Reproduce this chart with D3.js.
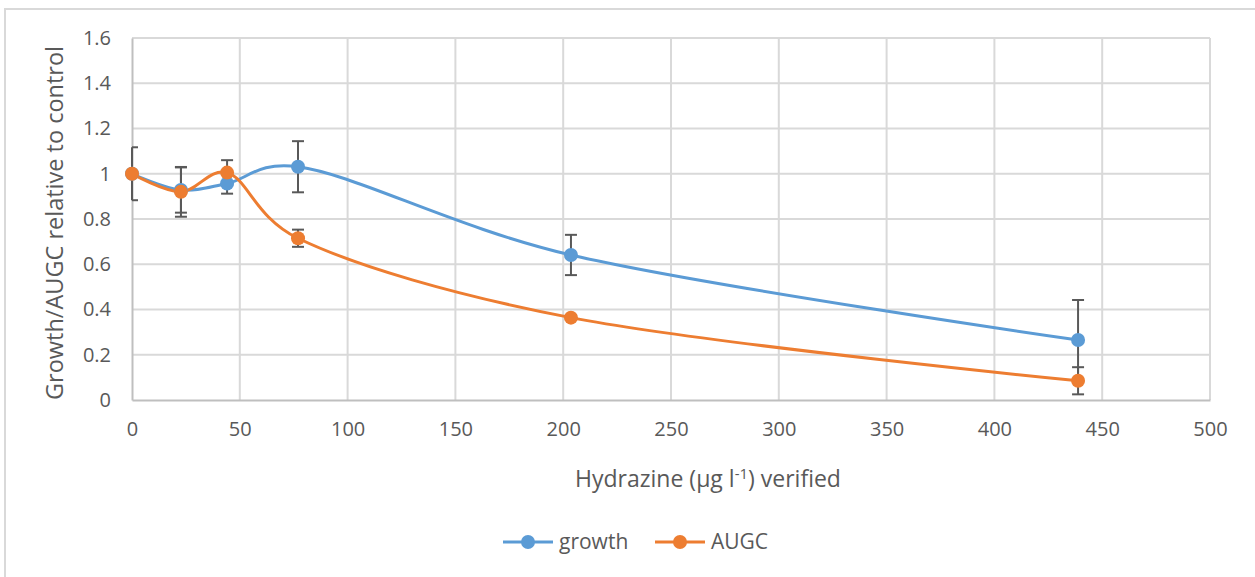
<!DOCTYPE html>
<html>
<head>
<meta charset="utf-8">
<script src="https://cdn.jsdelivr.net/npm/d3@7"></script>
<style>
  html, body { margin: 0; padding: 0; background: #fff; }
  svg { display: block; }
  text { font-family: "Open Sans", "Noto Sans", sans-serif; fill: #595959; }
</style>
</head>
<body>
<svg id="chart" width="1255" height="577"></svg>
<script>
// Hydrazine concentration (verified, µg/l)
const concentrations = [0, 22.7, 44.1, 77, 203.6, 438.8];

// Growth relative to control, with error
const growthValues = [1.0, 0.928, 0.957, 1.031, 0.641, 0.265];
const growthErrors = [0.117, 0.1, 0.045, 0.113, 0.089, 0.177];

// Area under growth curve (AUGC) relative to control, with error
const augcValues = [1.0, 0.92, 1.005, 0.715, 0.364, 0.085];
const augcErrors = [0.0, 0.11, 0.055, 0.038, 0.01, 0.06];

const xTicks = [0, 50, 100, 150, 200, 250, 300, 350, 400, 450, 500];
const yTicks = [0, 0.2, 0.4, 0.6, 0.8, 1.0, 1.2, 1.4, 1.6];

const seriesNames = ["growth", "AUGC"];
const seriesColors = ["#5b9bd5", "#ed7d31"];

const svg = d3.select("#chart");
const plot = { left: 132, right: 1210, top: 38, bottom: 400 };

const x = d3.scaleLinear().domain([0, 500]).range([plot.left, plot.right]);
const y = d3.scaleLinear().domain([0, 1.6]).range([plot.bottom, plot.top]);

// chart frame
svg.append("rect")
  .attr("x", 5).attr("y", 9)
  .attr("width", 1270).attr("height", 600)
  .attr("fill", "none").attr("stroke", "#d9d9d9").attr("stroke-width", 2);

// gridlines
const grid = svg.append("g");
grid.selectAll("line.h").data(yTicks.filter(d => d > 0)).join("line")
  .attr("x1", plot.left).attr("x2", plot.right)
  .attr("y1", d => y(d)).attr("y2", d => y(d))
  .attr("stroke", "#d9d9d9").attr("stroke-width", 2);
grid.selectAll("line.v").data(xTicks.filter(d => d > 0)).join("line")
  .attr("y1", plot.top).attr("y2", plot.bottom)
  .attr("x1", d => x(d)).attr("x2", d => x(d))
  .attr("stroke", "#d9d9d9").attr("stroke-width", 2);

// axes
const xAxis = svg.append("g")
  .attr("transform", `translate(0,${plot.bottom})`)
  .call(d3.axisBottom(x).tickValues(xTicks).tickSize(0).tickPadding(22).tickFormat(d3.format("d")));
const yAxis = svg.append("g")
  .attr("transform", `translate(${plot.left},0)`)
  .call(d3.axisLeft(y).tickValues(yTicks).tickSize(0).tickPadding(21).tickFormat(d => d3.format("")(+d.toFixed(1))));
[xAxis, yAxis].forEach(a => {
  a.select(".domain").attr("stroke", "#bfbfbf").attr("stroke-width", 2);
  a.selectAll("text").style("font-size", "20px").attr("fill", "#595959");
});

// axis titles
const xTitle = svg.append("text")
  .attr("x", 708).attr("y", 487)
  .attr("text-anchor", "middle")
  .style("font-size", "23px");
xTitle.append("tspan").text("Hydrazine (µg l");
xTitle.append("tspan").attr("dy", -8).style("font-size", "15px").text("-1");
xTitle.append("tspan").attr("dy", 8).text(") verified");

svg.append("text")
  .attr("transform", `translate(63,${(plot.top + plot.bottom) / 2 + 4}) rotate(-90)`)
  .attr("text-anchor", "middle")
  .style("font-size", "23.5px")
  .text("Growth/AUGC relative to control");

// series
const series = [
  { name: seriesNames[0], color: seriesColors[0], values: growthValues, errors: growthErrors },
  { name: seriesNames[1], color: seriesColors[1], values: augcValues, errors: augcErrors }
];

// smoothed line through the points
const line = d3.line()
  .x(d => x(d[0])).y(d => y(d[1]))
  .curve(d3.curveCatmullRom.alpha(0.25));

series.forEach(s => {
  const pts = concentrations.map((c, i) => [c, s.values[i], s.errors[i]]);
  svg.append("path")
    .datum(pts)
    .attr("d", line)
    .attr("fill", "none")
    .attr("stroke", s.color)
    .attr("stroke-width", 3);
});

// error bars drawn after both lines, before markers
series.forEach(s => {
  const pts = concentrations.map((c, i) => [c, s.values[i], s.errors[i]]);
  const eb = svg.append("g").attr("stroke", "#595959").attr("stroke-width", 2);
  pts.filter(d => d[2] > 0).forEach(d => {
    const cx = x(d[0]), y1 = y(d[1] + d[2]), y2 = y(d[1] - d[2]);
    eb.append("line").attr("x1", cx).attr("x2", cx).attr("y1", y1).attr("y2", y2);
    const capL = d[0] === 0 ? 0 : 6;
    eb.append("line").attr("x1", cx - capL).attr("x2", cx + 6).attr("y1", y1).attr("y2", y1);
    eb.append("line").attr("x1", cx - capL).attr("x2", cx + 6).attr("y1", y2).attr("y2", y2);
  });
});

series.forEach(s => {
  const pts = concentrations.map((c, i) => [c, s.values[i]]);
  svg.append("g").selectAll("circle").data(pts).join("circle")
    .attr("cx", d => x(d[0])).attr("cy", d => y(d[1]))
    .attr("r", 7).attr("fill", s.color);
});

// legend
const legendItems = [
  { name: seriesNames[0], color: seriesColors[0], x0: 503, tx: 559 },
  { name: seriesNames[1], color: seriesColors[1], x0: 655, tx: 711 }
];
const lg = svg.append("g");
legendItems.forEach(it => {
  lg.append("line").attr("x1", it.x0).attr("x2", it.x0 + 50)
    .attr("y1", 542).attr("y2", 542)
    .attr("stroke", it.color).attr("stroke-width", 3);
  lg.append("circle").attr("cx", it.x0 + 25).attr("cy", 542).attr("r", 7).attr("fill", it.color);
  lg.append("text").attr("x", it.tx).attr("y", 549)
    .style("font-size", "21px").text(it.name);
});
</script>
</body>
</html>
